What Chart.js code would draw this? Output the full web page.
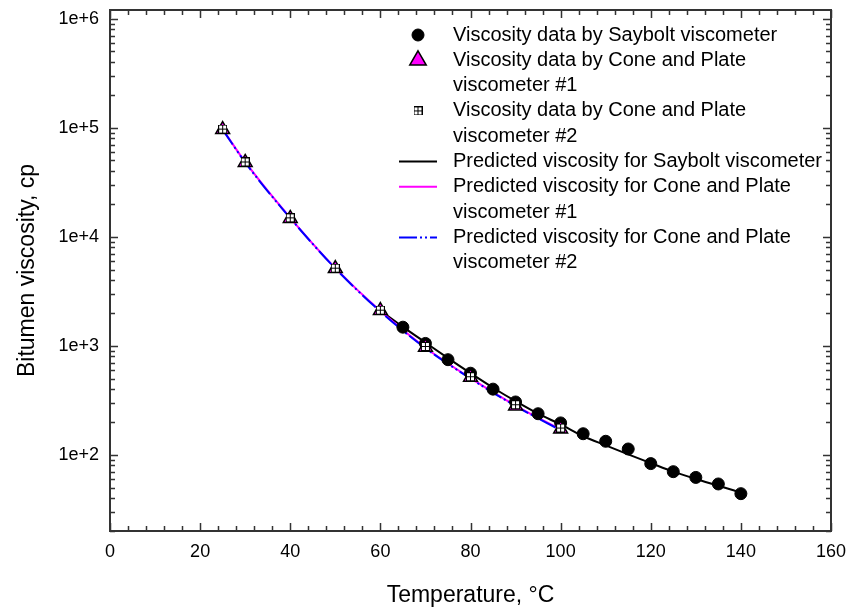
<!DOCTYPE html>
<html>
<head>
<meta charset="utf-8">
<script src="https://cdn.jsdelivr.net/npm/chart.js@4/dist/chart.umd.min.js"></script>
<style>
  html, body { margin: 0; padding: 0; background: #ffffff; }
  canvas { display: block; }
</style>
</head>
<body>
<canvas id="chart" width="852" height="611"></canvas>
<script>
// Measured viscosity, Saybolt viscometer (temperature in °C, viscosity in cp)
const sayboltTemp = [65, 70, 75, 80, 85, 90, 95, 100, 105, 110, 115, 120, 125, 130, 135, 140];
const sayboltVisc = [1480, 1050, 745, 560, 400, 305, 238, 196, 156, 133, 113, 83, 70, 62, 54, 44];

// Measured viscosity, cone and plate viscometers
const conePlateTemp = [25, 30, 40, 50, 60, 70, 80, 90, 100];
const conePlate1Visc = [96000, 48000, 14700, 5100, 2100, 970, 515, 280, 172];
const conePlate2Visc = [97000, 48500, 14900, 5150, 2120, 985, 520, 288, 176];

// Model predictions
const predSayboltTemp = [60, 65, 70, 75, 80, 85, 90, 95, 100, 105, 110, 115, 120, 125, 130, 135, 140];
const predSayboltVisc = [2100, 1490, 1070, 770, 560, 412, 310, 238, 190, 148, 122, 101, 84, 70, 60, 52, 45];
const predConeTemp = [25, 30, 40, 50, 60, 70, 80, 90, 100];
const predCone1Visc = [96500, 48500, 14900, 5150, 2080, 960, 505, 283, 170];
const predCone2Visc = [96000, 48000, 14800, 5120, 2060, 950, 500, 280, 168];

// Axes
const xTickValues = [0, 20, 40, 60, 80, 100, 120, 140, 160];
const xMinorStep = 4;
const yTickValues = [1e2, 1e3, 1e4, 1e5, 1e6];

const legendLabels = [
  ['Viscosity data by Saybolt viscometer'],
  ['Viscosity data by Cone and Plate', 'viscometer #1'],
  ['Viscosity data by Cone and Plate', 'viscometer #2'],
  ['Predicted viscosity for Saybolt viscometer'],
  ['Predicted viscosity for Cone and Plate', 'viscometer #1'],
  ['Predicted viscosity for Cone and Plate', 'viscometer #2']
];

const FONT = "'Liberation Sans', Arial, Helvetica, sans-serif";
const MAGENTA = '#ff00ff';
const BLUE = '#0000ff';
const AXIS = '#333333';

function pts(xs, ys) { return xs.map((x, i) => ({ x: x, y: ys[i] })); }

// small square with a cross inside, used as a point marker
function squarePlus(size) {
  const c = document.createElement('canvas');
  c.width = size; c.height = size;
  const g = c.getContext('2d');
  g.fillStyle = '#ffffff';
  g.fillRect(0, 0, size, size);
  g.strokeStyle = '#000000';
  g.lineWidth = 1;
  g.strokeRect(0.5, 0.5, size - 1, size - 1);
  const m = Math.floor(size / 2) + 0.5;
  g.beginPath();
  g.moveTo(m, 0); g.lineTo(m, size);
  g.moveTo(0, m); g.lineTo(size, m);
  g.stroke();
  return c;
}
const squareMarker = squarePlus(9);

const datasets = [
  {
    label: legendLabels[0].join(' '),
    data: pts(sayboltTemp, sayboltVisc),
    showLine: false,
    pointStyle: 'circle', pointRadius: 6,
    pointBackgroundColor: '#000000', pointBorderColor: '#000000', pointBorderWidth: 1,
    order: 3
  },
  {
    label: legendLabels[1].join(' '),
    data: pts(conePlateTemp, conePlate1Visc),
    showLine: false,
    pointStyle: 'triangle', pointRadius: 8,
    pointBackgroundColor: MAGENTA, pointBorderColor: '#000000', pointBorderWidth: 1.5,
    order: 2
  },
  {
    label: legendLabels[2].join(' '),
    data: pts(conePlateTemp, conePlate2Visc),
    showLine: false,
    pointStyle: squareMarker, pointRadius: 5,
    order: 1
  },
  {
    label: legendLabels[3].join(' '),
    data: pts(predSayboltTemp, predSayboltVisc),
    showLine: true, pointRadius: 0,
    borderColor: '#000000', borderWidth: 2,
    cubicInterpolationMode: 'monotone',
    order: 6
  },
  {
    label: legendLabels[4].join(' '),
    data: pts(predConeTemp, predCone1Visc),
    showLine: true, pointRadius: 0,
    borderColor: MAGENTA, borderWidth: 2,
    cubicInterpolationMode: 'monotone',
    order: 5
  },
  {
    label: legendLabels[5].join(' '),
    data: pts(predConeTemp, predCone2Visc),
    showLine: true, pointRadius: 0,
    borderColor: BLUE, borderWidth: 2,
    borderDash: [18, 3, 2, 3, 2, 3],
    cubicInterpolationMode: 'monotone',
    order: 4
  }
];

// Box frame with inward tick marks on all four sides
const framePlugin = {
  id: 'frame',
  afterDatasetsDraw(chart) {
    const { ctx, chartArea: a, scales } = chart;
    const xs = scales.x, ys = scales.y;
    ctx.save();
    ctx.strokeStyle = AXIS;
    ctx.lineWidth = 1.5;
    ctx.beginPath();
    for (let v = xs.min; v <= xs.max + 1e-9; v += xMinorStep) {
      const px = Math.round(xs.getPixelForValue(v)) + 0.5;
      const len = xTickValues.includes(v) ? 8 : 5;
      ctx.moveTo(px, a.bottom); ctx.lineTo(px, a.bottom - len);
      ctx.moveTo(px, a.top); ctx.lineTo(px, a.top + len);
    }
    const eMin = Math.floor(Math.log10(ys.min)), eMax = Math.ceil(Math.log10(ys.max));
    for (let e = eMin; e <= eMax; e++) {
      for (let m = 1; m <= 9; m++) {
        const v = m * Math.pow(10, e);
        if (v < ys.min * 0.999 || v > ys.max * 1.001) continue;
        const py = Math.round(ys.getPixelForValue(v)) + 0.5;
        const len = m === 1 ? 8 : 5;
        ctx.moveTo(a.left, py); ctx.lineTo(a.left + len, py);
        ctx.moveTo(a.right, py); ctx.lineTo(a.right - len, py);
      }
    }
    ctx.stroke();
    ctx.lineWidth = 2;
    ctx.strokeRect(a.left, a.top, a.right - a.left, a.bottom - a.top);
    ctx.restore();
  }
};

// Legend drawn inside the plot area, with wrapped labels
const legendPlugin = {
  id: 'boxLegend',
  afterDraw(chart) {
    const ctx = chart.ctx;
    const a = chart.chartArea;
    const markerX = a.left + 308;
    const textX = a.left + 343;
    const lineStart = a.left + 289, lineEnd = a.left + 327;
    const lineH = 25.3;
    let y = a.top + 25;
    ctx.save();
    ctx.font = '20px ' + FONT;
    ctx.fillStyle = '#000000';
    ctx.textBaseline = 'middle';
    ctx.textAlign = 'left';
    datasets.forEach((ds, i) => {
      if (ds.showLine) {
        ctx.save();
        ctx.strokeStyle = ds.borderColor;
        ctx.lineWidth = ds.borderWidth;
        ctx.setLineDash(ds.borderDash || []);
        ctx.beginPath();
        ctx.moveTo(lineStart, y); ctx.lineTo(lineEnd, y);
        ctx.stroke();
        ctx.restore();
      } else {
        ctx.save();
        ctx.fillStyle = ds.pointBackgroundColor || '#000';
        ctx.strokeStyle = ds.pointBorderColor || '#000';
        ctx.lineWidth = ds.pointBorderWidth || 1;
        const r = ds.pointStyle === 'triangle' ? 9.5 : ds.pointRadius;
        Chart.helpers.drawPoint(ctx, {
          pointStyle: ds.pointStyle, radius: r, rotation: 0,
          borderWidth: ds.pointBorderWidth || 0
        }, markerX, y);
        ctx.restore();
      }
      legendLabels[i].forEach((t, k) => {
        ctx.fillText(t, textX, y + k * lineH);
      });
      y += legendLabels[i].length * lineH;
    });
    ctx.restore();
  }
};

new Chart(document.getElementById('chart'), {
  type: 'scatter',
  data: { datasets: datasets },
  plugins: [framePlugin, legendPlugin],
  options: {
    responsive: false,
    animation: false,
    devicePixelRatio: 1,
    layout: { padding: { top: 10, right: 21, left: 0, bottom: 0 } },
    plugins: { legend: { display: false }, tooltip: { enabled: false } },
    scales: {
      x: {
        type: 'linear', min: 0, max: 160,
        grid: { display: false, drawTicks: false },
        border: { display: false },
        afterBuildTicks(scale) { scale.ticks = xTickValues.map(v => ({ value: v })); },
        afterFit(scale) { scale.height = 80; scale.paddingLeft = 0; scale.paddingRight = 0; },
        ticks: { color: '#000', padding: 10, font: { family: FONT, size: 18 }, maxRotation: 0 },
        title: {
          display: true, text: 'Temperature, °C', color: '#000',
          font: { family: FONT, size: 23 }, padding: { top: 0, bottom: 2 }
        }
      },
      y: {
        type: 'logarithmic', min: 20, max: 1.2e6,
        grid: { display: false, drawTicks: false },
        border: { display: false },
        afterBuildTicks(scale) { scale.ticks = yTickValues.map(v => ({ value: v })); },
        afterFit(scale) { scale.width = 110; scale.paddingTop = 0; scale.paddingBottom = 0; },
        ticks: {
          color: '#000', padding: 11, font: { family: FONT, size: 18 }, autoSkip: false,
          callback: (v) => '1e+' + Math.round(Math.log10(v))
        },
        title: {
          display: true, text: 'Bitumen viscosity, cp', color: '#000',
          font: { family: FONT, size: 23 }, padding: { top: 14, bottom: 0 }
        }
      }
    }
  }
});
</script>
</body>
</html>
